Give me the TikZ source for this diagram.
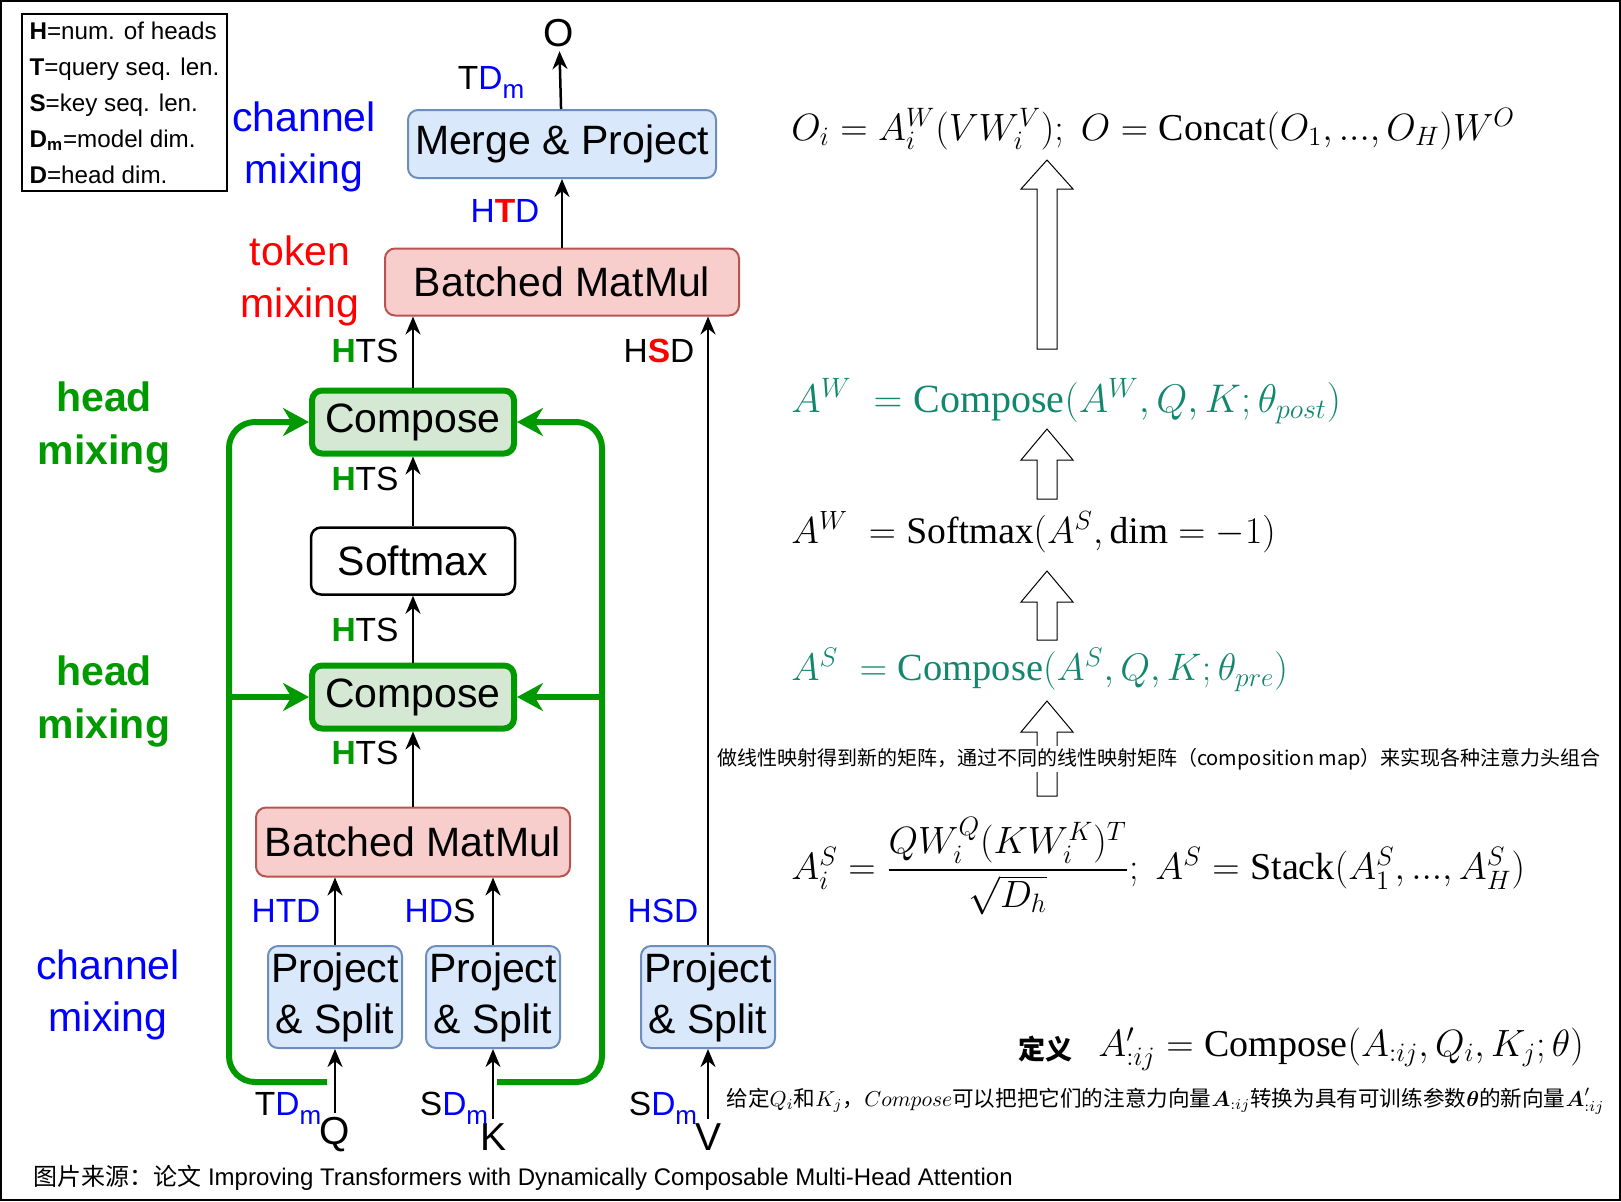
\RequirePackage{fix-cm}
\documentclass[tikz,border=0pt]{standalone}
\usepackage{amsmath}
\usepackage[no-math]{fontspec}
\setmainfont{Liberation Sans}
\newfontfamily\cjk{Noto Sans CJK SC}
\newfontfamily\opfont{Liberation Serif}
\usetikzlibrary{arrows.meta}
\definecolor{projfill}{HTML}{DAE8FC}
\definecolor{projline}{HTML}{6C8EBF}
\definecolor{mmfill}{HTML}{F8CECC}
\definecolor{mmline}{HTML}{B85450}
\definecolor{cmpfill}{HTML}{D5E8D4}
\definecolor{mixgreen}{HTML}{009900}
\definecolor{formteal}{HTML}{11876D}
\definecolor{dimblue}{HTML}{0000FF}
\definecolor{dimred}{HTML}{FF0000}
\newcommand{\gH}{\textbf{\textcolor{mixgreen}{H}}}
\newcommand{\subm}{\raisebox{-4.5pt}{\textcolor{dimblue}{\fontsize{13}{13}\selectfont m}}}
\newcommand{\opn}[1]{\text{\opfont #1}}
% hollow up arrow: x, bottom, head base, tip
\newcommand{\hollowup}[4]{%
  \draw[hollow] (#1-10,#2) -- (#1-10,#3) -- (#1-26,#3) -- (#1,#4)
    -- (#1+26,#3) -- (#1+10,#3) -- (#1+10,#2) -- cycle;}

\begin{document}
\begin{tikzpicture}[x=0.5pt,y=-0.5pt,
  opbox/.style={draw, rounded corners=5pt, line width=1pt, inner sep=0pt,
    align=center, font=\fontsize{20.5}{25.5}\selectfont},
  projbox/.style={opbox, fill=projfill, draw=projline},
  mmbox/.style={opbox, fill=mmfill, draw=mmline},
  cmpbox/.style={opbox, fill=cmpfill, draw=mixgreen, line width=3pt},
  flow/.style={line width=1.25pt, -{Stealth[length=9pt,width=7.5pt]}},
  mix/.style={draw=mixgreen, line width=3pt, rounded corners=13pt,
    -{Stealth[length=13pt,width=14pt]}},
  dimlbl/.style={font=\fontsize{16.75}{18}\selectfont, inner sep=0pt},
  note/.style={font=\fontsize{20.5}{26}\selectfont, align=center},
  headnote/.style={font=\bfseries\fontsize{20.5}{26.5}\selectfont, align=center, text=mixgreen},
  formula/.style={anchor=west, inner sep=0pt},
  hollow/.style={draw, line width=0.5pt, fill=white}
]
  \useasboundingbox (0,0) rectangle (1621,1201);
  \draw[line width=1pt] (1,1) rectangle (1620,1200);

  % legend
  \node[draw, line width=1pt, anchor=north west, minimum width=102.5pt,
    minimum height=88.5pt, align=left, font=\fontsize{12.1}{18}\selectfont]
    (legend) at (21,13)
    {\textbf{H}=num. of heads\\ \textbf{T}=query seq. len.\\ \textbf{S}=key seq. len.\\
     \textbf{D\textsubscript{m}}=model dim.\\ \textbf{D}=head dim.};

  % operation boxes
  \node[projbox, minimum width=67pt, minimum height=51pt] (psq) at (335,997) {Project\\\& Split};
  \node[projbox, minimum width=67pt, minimum height=51pt] (psk) at (493,997) {Project\\\& Split};
  \node[projbox, minimum width=67pt, minimum height=51pt] (psv) at (708,997) {Project\\\& Split};
  \node[mmbox, minimum width=157pt, minimum height=34.5pt] (bmmlo) at (413,842) {Batched MatMul};
  \node[cmpbox, minimum width=101pt, minimum height=31.5pt] (cmplo) at (413,697) {Compose};
  \node[opbox, line width=1.25pt, minimum width=102pt, minimum height=33.5pt] (softmax) at (413,561) {Softmax};
  \node[cmpbox, minimum width=101pt, minimum height=31.5pt] (cmpup) at (413,422) {Compose};
  \node[mmbox, minimum width=177pt, minimum height=33.5pt] (bmmup) at (562,282) {Batched MatMul};
  \node[projbox, minimum width=154pt, minimum height=34pt] (merge) at (562,144) {Merge \& Project};

  % inputs and output
  \node[font=\fontsize{19.5}{20}\selectfont, inner sep=2pt] (outo) at (559,33) {O};
  \node[font=\fontsize{19.5}{20}\selectfont, inner sep=2pt] (inq) at (335,1135) {Q};
  \node[font=\fontsize{19.5}{20}\selectfont, inner sep=2pt] (ink) at (493,1137) {K};
  \node[font=\fontsize{19.5}{20}\selectfont, inner sep=2pt] (inv) at (708,1137) {V};

  \draw[flow] (inq) -- (psq);
  \draw[flow] (ink) -- (psk);
  \draw[flow] (inv) -- (psv);
  \draw[flow] (psq.north) -- (psq.north |- bmmlo.south);
  \draw[flow] (psk.north) -- (psk.north |- bmmlo.south);
  \draw[flow] (bmmlo) -- (cmplo);
  \draw[flow] (cmplo) -- (softmax);
  \draw[flow] (softmax) -- (cmpup);
  \draw[flow] (cmpup.north) -- (cmpup.north |- bmmup.south);
  \draw[flow] (psv.north) -- (psv.north |- bmmup.south);
  \draw[flow] (bmmup) -- (merge);
  \draw[flow] (merge) -- (outo);

  % head mixing paths
  \coordinate (qgap) at (327,1082);
  \coordinate (kgap) at (497,1082);
  \coordinate (lbus) at (229,1082);
  \coordinate (rbus) at (602,1082);
  \draw[mix] (qgap) -- (lbus) |- (cmpup.west);
  \draw[mix] (kgap) -- (rbus) |- (cmpup.east);
  \draw[mix] (lbus |- cmplo.west) -- (cmplo.west);
  \draw[mix] (rbus |- cmplo.east) -- (cmplo.east);

  % shape labels
  \node[dimlbl] (dimout) at (491,82) {T\textcolor{dimblue}{D}\subm};
  \node[dimlbl, text=dimblue] (dimmerge) at (505,211) {H\textbf{\textcolor{dimred}{T}}D};
  \node[dimlbl] (dimhts1) at (365,351) {\gH TS};
  \node[dimlbl] (dimhsd1) at (659,351) {H\textbf{\textcolor{dimred}{S}}D};
  \node[dimlbl] (dimhts2) at (365,479) {\gH TS};
  \node[dimlbl] (dimhts3) at (365,630) {\gH TS};
  \node[dimlbl] (dimhts4) at (365,753) {\gH TS};
  \node[dimlbl, text=dimblue] (dimhtd) at (286,911) {HTD};
  \node[dimlbl] (dimhds) at (440,911) {\textcolor{dimblue}{HD}S};
  \node[dimlbl, text=dimblue] (dimhsd2) at (663,911) {HSD};
  \node[dimlbl] (dimq) at (288,1108) {T\textcolor{dimblue}{D}\subm};
  \node[dimlbl] (dimk) at (454,1108) {S\textcolor{dimblue}{D}\subm};
  \node[dimlbl] (dimv) at (663,1108) {S\textcolor{dimblue}{D}\subm};

  % side notes
  \node[note, text=dimblue] (chanup) at (304,147) {channel\\mixing};
  \node[note, text=dimred] (tokmix) at (300,281) {token\\mixing};
  \node[headnote] (headup) at (104,427) {head\\mixing};
  \node[headnote] (headlo) at (104,701) {head\\mixing};
  \node[note, text=dimblue] (chanlo) at (108,995) {channel\\mixing};

  % formulas
  \node[formula, font=\fontsize{19}{23}\selectfont] (eqout) at (791,129)
    {$O_i = A_i^W(VW_i^V);\ O = \opn{Concat}(O_1,...,O_H)W^O$};
  \node[formula, font=\fontsize{20}{24}\selectfont, text=formteal] (eqpost) at (791,401)
    {$A^W\; = \opn{Compose}(A^W, Q, K; \theta_{post})$};
  \node[formula, font=\fontsize{18.8}{23}\selectfont] (eqsoft) at (791,532)
    {$A^W\; = \opn{Softmax}(A^S, \opn{dim} = -1)$};
  \node[formula, font=\fontsize{19.2}{23}\selectfont, text=formteal] (eqpre) at (791,670)
    {$A^S\; = \opn{Compose}(A^S, Q, K; \theta_{pre})$};
  \node[formula, font=\fontsize{19}{23}\selectfont] (eqscore) at (791,866)
    {$A_i^S = \dfrac{QW_i^Q(KW_i^K)^T}{\sqrt{D_h}};\ A^S = \opn{Stack}(A_1^S,...,A_H^S)$};

  \hollowup{1047}{349}{189}{160}
  \hollowup{1047}{499}{460}{429}
  \hollowup{1047}{640}{602}{571}
  \hollowup{1047}{796}{732}{701}

  \node[fill=white, inner sep=1pt, font=\cjk\fontsize{10}{12}\selectfont] (cmpnote) at (1159,759)
    {做线性映射得到新的矩阵，通过不同的线性映射矩阵（composition map）来实现各种注意力头组合};

  \node[font=\cjk\bfseries\fontsize{13.5}{14}\selectfont, inner sep=0pt] (defword) at (1045,1049) {定义};
  \node[formula, font=\fontsize{19}{23}\selectfont] (eqdef) at (1098,1049)
    {$A'_{:ij} = \opn{Compose}(A_{:ij}, Q_i, K_j; \theta)$};
  \node[anchor=west, inner sep=0pt, font=\cjk\fontsize{10.8}{12}\selectfont] (defnote) at (726,1101)
    {给定$Q_i$和$K_j$，$Compose$可以把把它们的注意力向量$\boldsymbol{A}_{:ij}$转换为具有可训练参数$\boldsymbol{\theta}$的新向量$\boldsymbol{A}'_{:ij}$};

  \node[anchor=west, inner sep=0pt, font=\fontsize{12}{14}\selectfont] (source) at (33,1178)
    {{\cjk 图片来源：论文} Improving Transformers with Dynamically Composable Multi-Head Attention};
\end{tikzpicture}
\end{document}
